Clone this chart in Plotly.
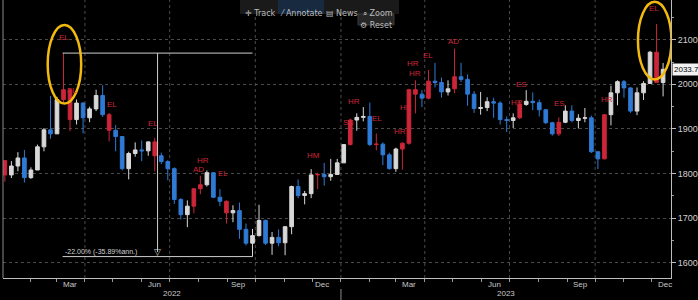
import plotly.graph_objects as go
import pandas as pd

# ---------------- data (weekly OHLC) ----------------
weeks = pd.date_range("2022-01-05", periods=102, freq="7D").strftime("%Y-%m-%d").tolist()

open_ = [1829, 1797, 1817, 1835, 1791, 1808, 1860, 1898, 1889, 1966,
         1988, 1921, 1958, 1925, 1945, 1975, 1932, 1897, 1883, 1811,
         1845, 1853, 1851, 1871, 1840, 1827, 1811, 1742, 1708, 1727,
         1766, 1775, 1802, 1747, 1738, 1712, 1717, 1675, 1644, 1661,
         1695, 1644, 1657, 1645, 1681, 1771, 1751, 1755, 1797, 1798,
         1793, 1798,
         1824, 1865, 1920, 1926, 1928, 1865, 1866, 1842, 1811, 1855,
         1868, 1988, 1978, 1969, 2007, 2004, 1983, 1990, 2017, 2011,
         1978, 1946, 1948, 1961, 1958, 1921, 1919, 1925, 1955, 1962,
         1959, 1943, 1914, 1889, 1915, 1940, 1919, 1924, 1925, 1849,
         1833, 1932, 1981, 2006, 1992, 1940, 1981, 2002, 2072, 2004]
high = [1830, 1828, 1848, 1853, 1814, 1865, 1902, 1974, 1972, 2070,
        1992, 1966, 1960, 1950, 1988, 1998, 1936, 1909, 1884, 1849,
        1870, 1874, 1872, 1880, 1847, 1830, 1814, 1745, 1740, 1767,
        1795, 1807, 1803, 1765, 1740, 1729, 1735, 1688, 1676, 1730,
        1697, 1669, 1675, 1681, 1773, 1787, 1761, 1810, 1802, 1824,
        1833, 1833,
        1865, 1923, 1935, 1949, 1959, 1890, 1870, 1847, 1858, 1870,
        1990, 2009, 1987, 2032, 2048, 2015, 2009, 2080, 2048, 2022,
        1985, 1983, 1971, 1970, 1962, 1928, 1935, 1963, 1987, 1982,
        1966, 1945, 1916, 1926, 1953, 1953, 1933, 1947, 1930, 1850,
        1933, 1997, 2009, 2010, 1993, 1993, 2007, 2075, 2135, 2048]
low = [1782, 1790, 1805, 1780, 1788, 1808, 1850, 1878, 1889, 1960,
       1895, 1910, 1890, 1915, 1940, 1927, 1872, 1850, 1807, 1787,
       1838, 1828, 1840, 1805, 1821, 1785, 1732, 1697, 1680, 1711,
       1754, 1771, 1745, 1727, 1688, 1691, 1654, 1639, 1614, 1659,
       1640, 1618, 1637, 1617, 1664, 1745, 1731, 1745, 1765, 1773,
       1784, 1797,
       1824, 1863, 1896, 1917, 1862, 1852, 1819, 1809, 1804, 1809,
       1865, 1935, 1949, 1966, 1993, 1970, 1975, 1980, 2005, 1952,
       1936, 1932, 1940, 1925, 1910, 1893, 1902, 1922, 1952, 1942,
       1928, 1911, 1885, 1884, 1913, 1915, 1901, 1915, 1846, 1810,
       1832, 1908, 1953, 1970, 1936, 1931, 1965, 2001, 2010, 1973]
close = [1797, 1817, 1835, 1791, 1808, 1860, 1898, 1889, 1966, 1988,
         1921, 1958, 1925, 1945, 1975, 1932, 1897, 1883, 1811, 1845,
         1853, 1851, 1871, 1840, 1827, 1811, 1742, 1708, 1727, 1766,
         1775, 1802, 1747, 1738, 1712, 1717, 1675, 1644, 1661, 1695,
         1644, 1657, 1645, 1681, 1771, 1751, 1755, 1797, 1798, 1793,
         1798, 1824,
         1865, 1920, 1926, 1928, 1865, 1866, 1842, 1811, 1855, 1868,
         1988, 1978, 1969, 2007, 2004, 1983, 1990, 2017, 2011, 1978,
         1946, 1948, 1961, 1958, 1921, 1919, 1925, 1955, 1962, 1959,
         1943, 1914, 1889, 1915, 1940, 1919, 1924, 1925, 1849, 1833,
         1932, 1981, 2006, 1992, 1940, 1981, 2002, 2072, 2004, 2033.7]

# weeks flagged by the candle-pattern study (drawn red)
highlight_weeks = ["2022-01-05", "2022-03-09", "2022-03-16", "2022-04-27", "2022-06-15",
                   "2022-07-27", "2022-08-03", "2022-08-31", "2022-12-07",
                   "2023-01-11", "2023-02-08", "2023-03-08", "2023-03-15", "2023-03-22",
                   "2023-04-05", "2023-05-03", "2023-07-12", "2023-08-23", "2023-10-11",
                   "2023-12-06"]

# pattern labels
label_text = ["EL", "EL", "EL", "EL", "HR", "AD", "EL", "HM", "SS", "HR", "EL",
              "HR", "HR", "HR", "HR", "EL", "AD", "ES", "HR", "ES", "HR", "EL"]
label_date = ["2022-03-09", "2022-03-18", "2022-04-30", "2022-06-13", "2022-08-06",
              "2022-08-01", "2022-08-27", "2022-12-02", "2023-01-09", "2023-01-15",
              "2023-02-09", "2023-03-05", "2023-03-12", "2023-03-19", "2023-03-21",
              "2023-04-04", "2023-05-02", "2023-07-14", "2023-07-09", "2023-08-24",
              "2023-10-14", "2023-12-03"]
label_price = [2106, 1986, 1955, 1912, 1829, 1809, 1800, 1840, 1914, 1962,
               1923, 1894, 1948, 2047, 2025, 2065, 2095, 2000, 1959, 1957,
               1966, 2171]

y_ticks = [1600, 1700, 1800, 1900, 2000, 2100]
month_labels = ["Mar", "Jun", "Sep", "Dec", "Mar", "Jun", "Sep", "Dec"]
month_label_dates = ["2022-03-16", "2022-06-15", "2022-09-13", "2022-12-12",
                     "2023-03-15", "2023-06-15", "2023-09-15", "2023-12-15"]
year_labels = ["2022", "2023"]
year_label_dates = ["2022-07-04", "2023-06-27"]

peak_date, peak_price = "2022-03-08", 2070
trough_date, trough_price = "2022-09-28", 1614
mid_date = "2022-06-18"
drawdown_text = "-22.00% (-35.89%ann.)"
last_price = 2033.7

# ---------------- figure ----------------
BLUE = "#2f7ad4"
WHITE = "#d8d8d8"
RED = "#cc2638"
GRID = "#4a4a4a"
FONT = "Liberation Sans, Arial, sans-serif"

norm = [i for i, d in enumerate(weeks) if d not in highlight_weeks]
hil = [i for i, d in enumerate(weeks) if d in highlight_weeks]

def pick(arr, idx):
    return [arr[i] for i in idx]

fig = go.Figure()
fig.add_trace(go.Candlestick(
    x=pick(weeks, norm), open=pick(open_, norm), high=pick(high, norm),
    low=pick(low, norm), close=pick(close, norm),
    increasing=dict(line=dict(color=WHITE, width=1), fillcolor=WHITE),
    decreasing=dict(line=dict(color=BLUE, width=1), fillcolor=BLUE),
    whiskerwidth=0, showlegend=False, hoverinfo="skip"))
fig.add_trace(go.Candlestick(
    x=pick(weeks, hil), open=pick(open_, hil), high=pick(high, hil),
    low=pick(low, hil), close=pick(close, hil),
    increasing=dict(line=dict(color=RED, width=1), fillcolor=RED),
    decreasing=dict(line=dict(color=RED, width=1), fillcolor=RED),
    whiskerwidth=0, showlegend=False, hoverinfo="skip"))

W, H = 698, 300
L, R, T, B = 3, 27, 0, 22
PW, PH = W - L - R, H - T - B

def px(x):
    return (x - L) / PW

def py(y):
    return (H - B - y) / PH

annotations = []
for t, d, p in zip(label_text, label_date, label_price):
    annotations.append(dict(x=d, y=p, xref="x", yref="y", text=t, showarrow=False,
                            font=dict(color=RED, size=8, family=FONT)))
for t, d in zip(month_labels, month_label_dates):
    annotations.append(dict(x=d, y=py(284), xref="x", yref="paper", text=t, showarrow=False,
                            yanchor="middle", font=dict(color="#c8c8c8", size=8, family=FONT)))
for t, d in zip(year_labels, year_label_dates):
    annotations.append(dict(x=d, y=py(293), xref="x", yref="paper", text=t, showarrow=False,
                            yanchor="middle", font=dict(color="#c8c8c8", size=8, family=FONT)))
# drawdown tool text + arrow head
annotations.append(dict(x=peak_date, y=trough_price, xref="x", yref="y", text=drawdown_text,
                        showarrow=False, xanchor="left", yanchor="bottom", yshift=-1,
                        font=dict(color="#d0d0d0", size=7, family=FONT)))
annotations.append(dict(x=mid_date, y=trough_price, xref="x", yref="y", text="▽",
                        showarrow=False, yanchor="bottom", yshift=-2,
                        font=dict(color="#d0d0d0", size=9, family="DejaVu Sans")))
# last price tag
annotations.append(dict(x=1, y=last_price, xref="paper", yref="y", text=f"{last_price:.1f}",
                        showarrow=False, xanchor="left", xshift=1, bgcolor="#f2f2f2",
                        borderpad=1, font=dict(color="#000000", size=8, family=FONT)))
# toolbar
toolbar = [("✛ Track", 260), ("⁄ Annotate", 301), ("▤ News", 342), ("⌕ Zoom", 378)]
for t, x in toolbar:
    annotations.append(dict(x=px(x), y=py(7), xref="paper", yref="paper", text=t,
                            showarrow=False, font=dict(color="#bdbdbd", size=8, family="DejaVu Sans")))
annotations.append(dict(x=px(376), y=py(19), xref="paper", yref="paper", text="⚙ Reset",
                        showarrow=False, font=dict(color="#bdbdbd", size=8, family="DejaVu Sans")))

shapes = []
# quarter grid lines (vertical, dotted)
for q in ["2022-04-01", "2022-07-01", "2022-10-01", "2023-01-01", "2023-04-01",
          "2023-07-01", "2023-10-01"]:
    shapes.append(dict(type="line", xref="x", yref="paper", x0=q, x1=q, y0=0, y1=1,
                       line=dict(color=GRID, width=1, dash="dot"), layer="below"))
# year separator tick
shapes.append(dict(type="line", xref="x", yref="paper", x0="2023-01-01", x1="2023-01-01",
                   y0=py(289), y1=py(300), line=dict(color="#8a8a8a", width=1)))
# left border
shapes.append(dict(type="line", xref="paper", yref="paper", x0=0, x1=0, y0=0, y1=1,
                   line=dict(color="#8a8a8a", width=1)))
# toolbar backgrounds
shapes.append(dict(type="rect", xref="paper", yref="paper", x0=px(240), x1=px(399),
                   y0=py(14), y1=py(0), fillcolor="#1a1a1a", line=dict(width=0), layer="above"))
shapes.append(dict(type="rect", xref="paper", yref="paper", x0=px(278), x1=px(324),
                   y0=py(14), y1=py(0), fillcolor="#172a40", line=dict(width=0), layer="above"))
shapes.append(dict(type="rect", xref="paper", yref="paper", x0=px(358), x1=px(394),
                   y0=py(25), y1=py(14), fillcolor="#262626", line=dict(color="#3a3a3a", width=1),
                   layer="above"))
# drawdown measuring tool
shapes.append(dict(type="line", xref="x", yref="y", x0=peak_date, x1=trough_date,
                   y0=peak_price, y1=peak_price, line=dict(color="#cfcfcf", width=1)))
shapes.append(dict(type="line", xref="x", yref="y", x0=peak_date, x1=trough_date,
                   y0=trough_price, y1=trough_price, line=dict(color="#cfcfcf", width=1)))
shapes.append(dict(type="line", xref="x", yref="y", x0=mid_date, x1=mid_date,
                   y0=peak_price, y1=trough_price + 10, line=dict(color="#cfcfcf", width=1)))
# highlight ellipses
shapes.append(dict(type="circle", xref="x", yref="y", x0="2022-02-20", x1="2022-03-28",
                   y0=1957, y1=2133, line=dict(color="#f2b90f", width=2.5)))
shapes.append(dict(type="circle", xref="x", yref="y", x0="2023-11-16", x1="2023-12-22",
                   y0=2011, y1=2185, line=dict(color="#f2b90f", width=2.5)))

fig.update_layout(
    width=W, height=H, margin=dict(l=L, r=R, t=T, b=B),
    paper_bgcolor="#000000", plot_bgcolor="#000000",
    font=dict(family=FONT, color="#cccccc", size=9),
    showlegend=False, boxgap=0.2,
    annotations=annotations, shapes=shapes,
    xaxis=dict(type="date", range=["2022-01-03", "2023-12-21 12:00"],
               rangeslider=dict(visible=False), showgrid=False, zeroline=False,
               showline=True, linecolor="#bdbdbd", linewidth=1,
               tickmode="array", tickvals=["2022-01-01"], showticklabels=False,
               ticks="outside", ticklen=3, tickcolor="#9a9a9a",
               minor=dict(dtick="M1", tick0="2022-01-01", ticks="outside", ticklen=3,
                          tickcolor="#9a9a9a", showgrid=False)),
    yaxis=dict(side="right", range=[1566, 2189], tickmode="linear", tick0=1600, dtick=100,
               showgrid=True, gridcolor=GRID, griddash="dot", gridwidth=1, zeroline=False,
               showline=True, linecolor="#bdbdbd", linewidth=1,
               ticks="outside", ticklen=4, tickcolor="#bdbdbd",
               tickfont=dict(color="#d0d0d0", size=9, family=FONT),
               minor=dict(dtick=50, tick0=1550, ticks="outside", ticklen=2,
                          tickcolor="#9a9a9a", showgrid=False)),
)

fig.write_html("out.html")
